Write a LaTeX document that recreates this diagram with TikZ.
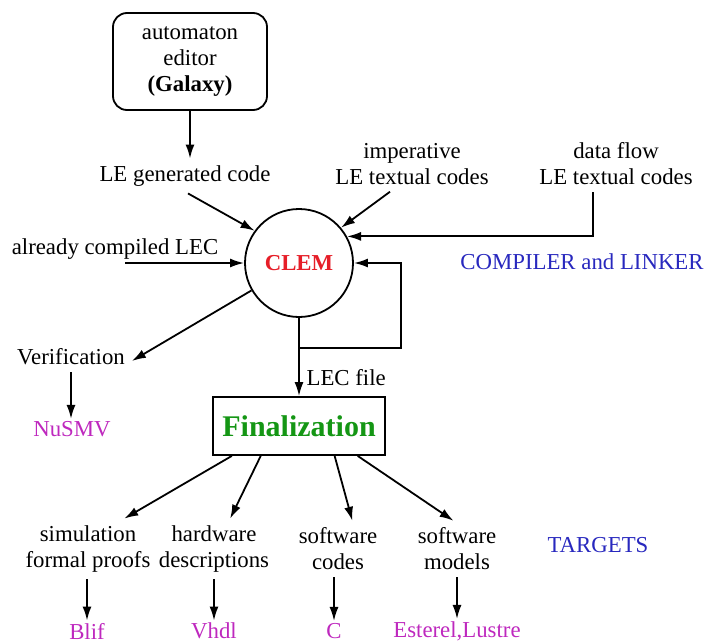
\documentclass[tikz,border=0pt]{standalone}
\usepackage{fontspec}
\setmainfont{LiberationSerif}[Extension=.ttf, UprightFont=*-Regular, BoldFont=*-Bold, ItalicFont=*-Italic, BoldItalicFont=*-BoldItalic]
\usetikzlibrary{arrows.meta}
\definecolor{clemred}{RGB}{230,30,40}
\definecolor{fingreen}{RGB}{20,150,20}
\definecolor{toolmag}{RGB}{190,40,190}
\definecolor{noteblue}{RGB}{40,40,190}
\begin{document}
\begin{tikzpicture}[x=0.5pt,y=-0.5pt,
  every node/.style={font=\fontsize{11.4}{13}\selectfont, align=center},
  arr/.style={-{Latex[length=7pt,width=4.5pt]}, line width=0.9pt},
  tool/.style={text=toolmag, inner sep=1pt},
  note/.style={text=noteblue}]
  \useasboundingbox (0,0) rectangle (705,643);

  % editor and source codes
  \node[draw, line width=0.9pt, rounded corners=7pt, minimum width=77pt, minimum height=48.5pt] (editor) at (190,61.5) {automaton\\editor\\\textbf{(Galaxy)}};
  \node (gencode) at (185,176) {LE generated code};
  \node (impcode) at (412,164) {imperative\\LE textual codes};
  \node (flowcode) at (616,164) {data flow\\LE textual codes};
  \node (already) at (115,249) {already compiled LEC};
  \coordinate (lecin) at (125,263);

  % compiler
  \node[draw, circle, line width=0.9pt, minimum size=54pt, inner sep=0pt, font=\fontsize{11.4}{13}\selectfont\bfseries, text=clemred] (clem) at (299,263) {CLEM};
  \node[note] (compiler) at (582,262) {COMPILER and LINKER};

  \draw[arr] (editor.south) -- (editor.south |- gencode.north);
  \draw[arr] ([xshift=1.5pt]gencode.south) -- (clem.144);
  \draw[arr] ([xshift=-11pt]impcode.south) -- (clem.40);
  \draw[arr] ([xshift=-11.5pt]flowcode.south) |- (clem.29);
  \draw[arr] (lecin) -- (clem.west);

  % feedback loop
  \coordinate (loop) at (401,348);
  \draw[arr] (clem.south |- loop) -- (loop) |- (clem.east);

  % verification
  \node (verif) at (71,357) {Verification};
  \node[tool] (nusmv) at (72,429) {NuSMV};
  \draw[arr] (clem.210) -- ([yshift=-2pt]verif.east);
  \draw[arr] (verif.south) -- (verif.south |- nusmv.north);

  % finalization
  \node[draw, line width=0.9pt, minimum width=86pt, minimum height=29pt, font=\fontsize{15}{18}\selectfont\bfseries, text=fingreen] (final) at (299,426) {Finalization};
  \draw[arr] (clem.south) -- node[pos=0.76, right] (lecfile) {LEC file} (final.north);

  % targets
  \node (sim) at (88,549) {simulation\\formal proofs};
  \node (hard) at (214,549) {hardware\\descriptions};
  \node (soft) at (338,549) {software\\codes};
  \node (model) at (457,549) {software\\models};
  \node[note] (targets) at (598,545) {TARGETS};
  \draw[arr] (final.204) -- (sim.40);
  \draw[arr] (final.218) -- (hard.62);
  \draw[arr] (final.320) -- (soft.63);
  \draw[arr] (final.333) -- (model.97);

  % languages
  \node[tool] (blif) at (87,631) {Blif};
  \node[tool] (vhdl) at (214,631) {Vhdl};
  \node[tool] (ccode) at (334,631) {C};
  \node[tool] (esterel) at (457,631) {Esterel,Lustre};
  \draw[arr] (blif.north |- sim.south) -- (blif.north);
  \draw[arr] (vhdl.north |- hard.south) -- (vhdl.north);
  \draw[arr] (ccode.north |- soft.south) -- (ccode.north);
  \draw[arr] (esterel.north |- model.south) -- (esterel.north);
\end{tikzpicture}
\end{document}
